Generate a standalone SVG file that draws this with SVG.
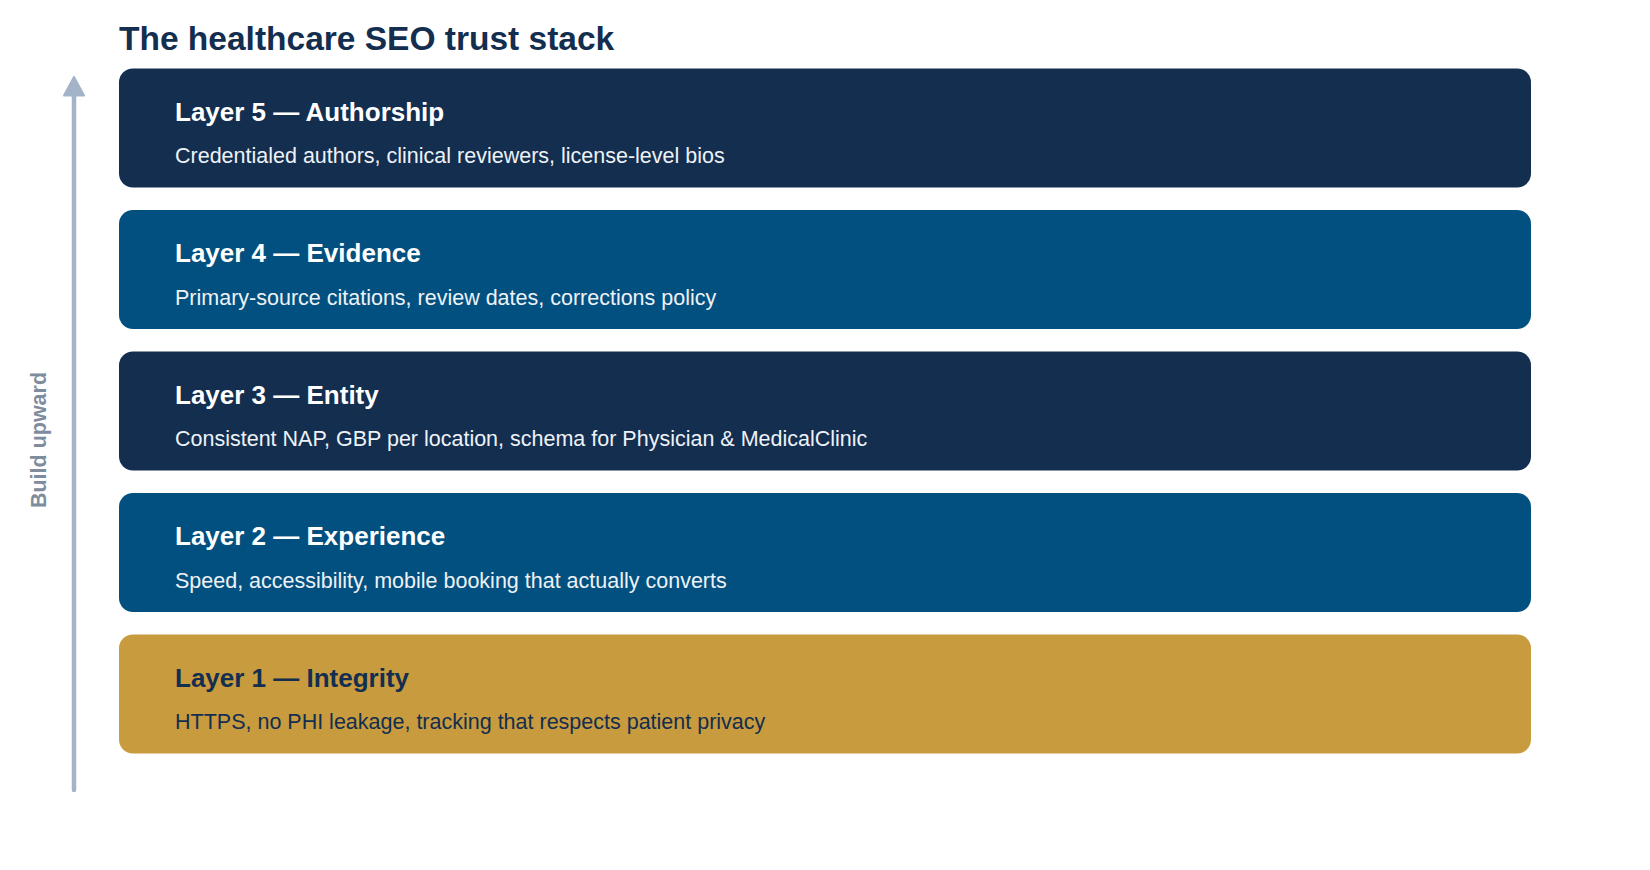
<svg xmlns="http://www.w3.org/2000/svg" width="1650" height="870" viewBox="0 0 1650 870">
<style>
.bg{fill:#ffffff}
.box{stroke:none}
.navy{fill:#132e4f}
.blue{fill:#02507f}
.gold{fill:#c89b3e}
.title{font-family:"Liberation Sans",Arial,sans-serif;font-weight:bold;font-size:33.5px;fill:#132e4f}
.lt{font-family:"Liberation Sans",Arial,sans-serif;font-weight:bold;font-size:26px;fill:#ffffff}
.ld{font-family:"Liberation Sans",Arial,sans-serif;font-size:21.5px;fill:#eef2f7}
.dk{fill:#132e4f}
.side{font-family:"Liberation Sans",Arial,sans-serif;font-weight:bold;font-size:21.5px;fill:#7f8c9d}
</style>
<rect class="bg" x="0" y="0" width="1650" height="870"/>
<text class="title" x="119" y="50">The healthcare SEO trust stack</text>
<g id="connectors">
<line x1="74" y1="790" x2="74" y2="96" stroke="#a3b3c8" stroke-width="4.5" stroke-linecap="round"/>
<path d="M64,95.5 L74,77 L84,95.5 Z" fill="#a3b3c8" stroke="#a3b3c8" stroke-width="2" stroke-linejoin="round"/>
</g>
<text class="side" transform="translate(45.5,440) rotate(-90)" text-anchor="middle">Build upward</text>
<g id="layer5">
<rect class="box navy" x="119" y="68.5" width="1412" height="119" rx="14"/>
<text class="lt" x="175" y="120.5">Layer 5 — Authorship</text>
<text class="ld" x="175" y="163">Credentialed authors, clinical reviewers, license-level bios</text>
</g>
<g id="layer4">
<rect class="box blue" x="119" y="210" width="1412" height="119" rx="14"/>
<text class="lt" x="175" y="262">Layer 4 — Evidence</text>
<text class="ld" x="175" y="304.5">Primary-source citations, review dates, corrections policy</text>
</g>
<g id="layer3">
<rect class="box navy" x="119" y="351.5" width="1412" height="119" rx="14"/>
<text class="lt" x="175" y="403.5">Layer 3 — Entity</text>
<text class="ld" x="175" y="446">Consistent NAP, GBP per location, schema for Physician &amp; MedicalClinic</text>
</g>
<g id="layer2">
<rect class="box blue" x="119" y="493" width="1412" height="119" rx="14"/>
<text class="lt" x="175" y="545">Layer 2 — Experience</text>
<text class="ld" x="175" y="587.5">Speed, accessibility, mobile booking that actually converts</text>
</g>
<g id="layer1">
<rect class="box gold" x="119" y="634.5" width="1412" height="119" rx="14"/>
<text class="lt dk" x="175" y="686.5">Layer 1 — Integrity</text>
<text class="ld dk" x="175" y="729">HTTPS, no PHI leakage, tracking that respects patient privacy</text>
</g>
</svg>
